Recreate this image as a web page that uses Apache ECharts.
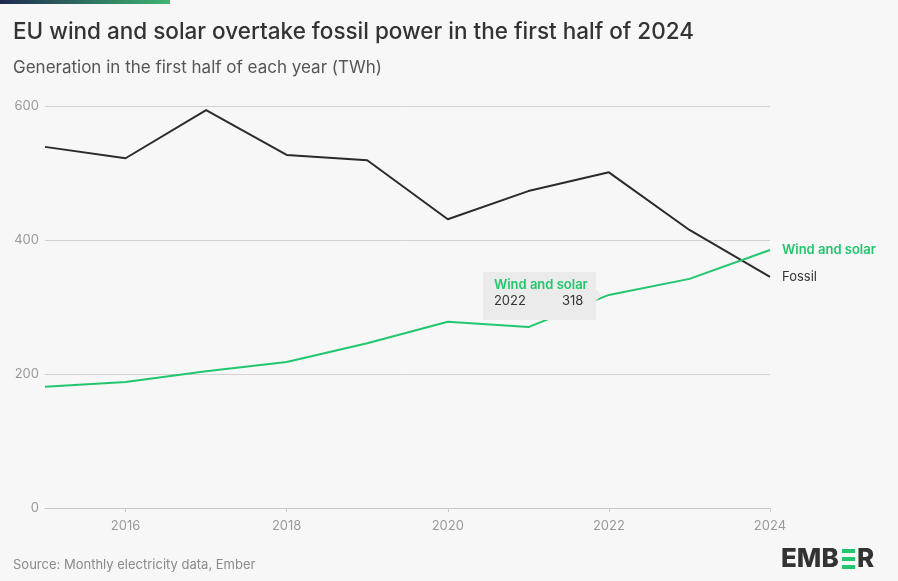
<!DOCTYPE html>
<html>
<head>
<meta charset="utf-8">
<script src="https://cdn.jsdelivr.net/npm/echarts@6/dist/echarts.min.js"></script>
<style>
    html, body { margin: 0; padding: 0; background: #f7f7f7; }
    #chart { width: 898px; height: 581px; }
</style>
</head>
<body>
<div id="chart"></div>
<script>
// data
var years = ['2015', '2016', '2017', '2018', '2019', '2020', '2021', '2022', '2023', '2024'];
var windSolar = [181, 188, 204, 218, 246, 278, 270, 318, 342, 385];
var fossil = [539, 522, 594, 527, 519, 431, 473, 501, 415, 345];
var yTicks = [0, 200, 400, 600];
var tipIndex = 7;

var green = '#22c66e';
var dark = '#2b2b2b';
var font = 'Inter, "Noto Sans", sans-serif';

var myChart = echarts.init(document.getElementById('chart'));

var option = {
    backgroundColor: '#f7f7f7',
    animation: false,
    textStyle: { fontFamily: font },
    grid: { left: 45, right: 128, top: 106, bottom: 73 },
    title: [
        {
            text: 'EU wind and solar overtake fossil power in the first half of 2024',
            left: 8, top: 16,
            textStyle: { fontFamily: font, fontSize: 22.5, fontWeight: 500, color: '#333' },
        },
        {
            text: 'Generation in the first half of each year (TWh)',
            left: 8, top: 54,
            textStyle: { fontFamily: font, fontSize: 17, fontWeight: 400, color: '#555' },
        },
        {
            text: 'Source: Monthly electricity data, Ember',
            left: 8, top: 554,
            textStyle: { fontFamily: font, fontSize: 13, fontWeight: 400, color: '#8a8a8a' },
        },
    ],
    xAxis: {
        type: 'category',
        data: years,
        boundaryGap: false,
        axisLine: { lineStyle: { color: '#c8c8c8' } },
        axisTick: {
            interval: function (i) { return i % 2 === 1; },
            length: 4,
            lineStyle: { color: '#c8c8c8' },
        },
        axisLabel: {
            interval: function (i) { return i % 2 === 1; },
            color: '#999',
            fontSize: 13,
            margin: 12,
        },
    },
    yAxis: {
        type: 'value',
        min: yTicks[0],
        max: yTicks[yTicks.length - 1],
        interval: 200,
        axisLine: { show: false },
        axisTick: { show: false },
        axisLabel: { color: '#999', fontSize: 13, margin: 6 },
        splitLine: { lineStyle: { color: '#d2d2d2' } },
    },
    series: [
        {
            name: 'Fossil',
            type: 'line',
            data: fossil,
            symbol: 'none',
            lineStyle: { color: dark, width: 2 },
            endLabel: {
                show: true,
                formatter: '{a}',
                color: '#333',
                fontSize: 13,
                distance: 12,
            },
        },
        {
            name: 'Wind and solar',
            type: 'line',
            data: windSolar,
            symbol: 'none',
            lineStyle: { color: green, width: 2 },
            endLabel: {
                show: true,
                formatter: '{a}',
                color: green,
                fontSize: 13,
                fontWeight: 600,
                distance: 12,
            },
        },
    ],
};

myChart.setOption(option);

// static tooltip box to the left of the 2022 point
var p = myChart.convertToPixel({ seriesIndex: 1 }, [tipIndex, windSolar[tipIndex]]);
var bx = p[0] - 126, by = p[1] - 23, bw = 113, bh = 48;

myChart.setOption({
    graphic: [
        {
            type: 'rect',
            shape: { x: 0, y: 0, width: 170, height: 4 },
            style: {
                fill: new echarts.graphic.LinearGradient(0, 0, 1, 0, [
                    { offset: 0, color: '#1e2a50' },
                    { offset: 1, color: '#3fb56f' },
                ]),
            },
        },
        {
            type: 'rect',
            z: 100,
            shape: { x: bx, y: by, width: bw, height: bh },
            style: { fill: '#ebebeb' },
        },
        {
            type: 'polygon',
            z: 100,
            shape: { points: [[bx + bw, p[1] - 6], [bx + bw + 6, p[1]], [bx + bw, p[1] + 6]] },
            style: { fill: '#ebebeb' },
        },
        {
            type: 'text',
            z: 101,
            left: bx + 11, top: by + 7,
            style: { text: 'Wind and solar', fill: green, fontSize: 13, fontWeight: 600, fontFamily: font },
        },
        {
            type: 'text',
            z: 101,
            left: bx + 11, top: by + 23,
            style: { text: years[tipIndex], fill: '#333', fontSize: 13, fontFamily: font },
        },
        {
            type: 'text',
            z: 101,
            left: bx + 79, top: by + 23,
            style: { text: String(windSolar[tipIndex]), fill: '#333', fontSize: 13, fontFamily: font },
        },
        // Ember logo
        {
            type: 'text',
            left: 781, top: 546,
            style: { text: 'EMB', fill: '#333', fontSize: 26, fontWeight: 800, fontFamily: font },
        },
        { type: 'rect', shape: { x: 842, y: 549, width: 13, height: 4 }, style: { fill: green } },
        { type: 'rect', shape: { x: 842, y: 557, width: 13, height: 4 }, style: { fill: green } },
        { type: 'rect', shape: { x: 842, y: 565, width: 13, height: 4 }, style: { fill: green } },
        {
            type: 'text',
            left: 857, top: 546,
            style: { text: 'R', fill: '#333', fontSize: 26, fontWeight: 800, fontFamily: font },
        },
    ],
});
</script>
</body>
</html>
